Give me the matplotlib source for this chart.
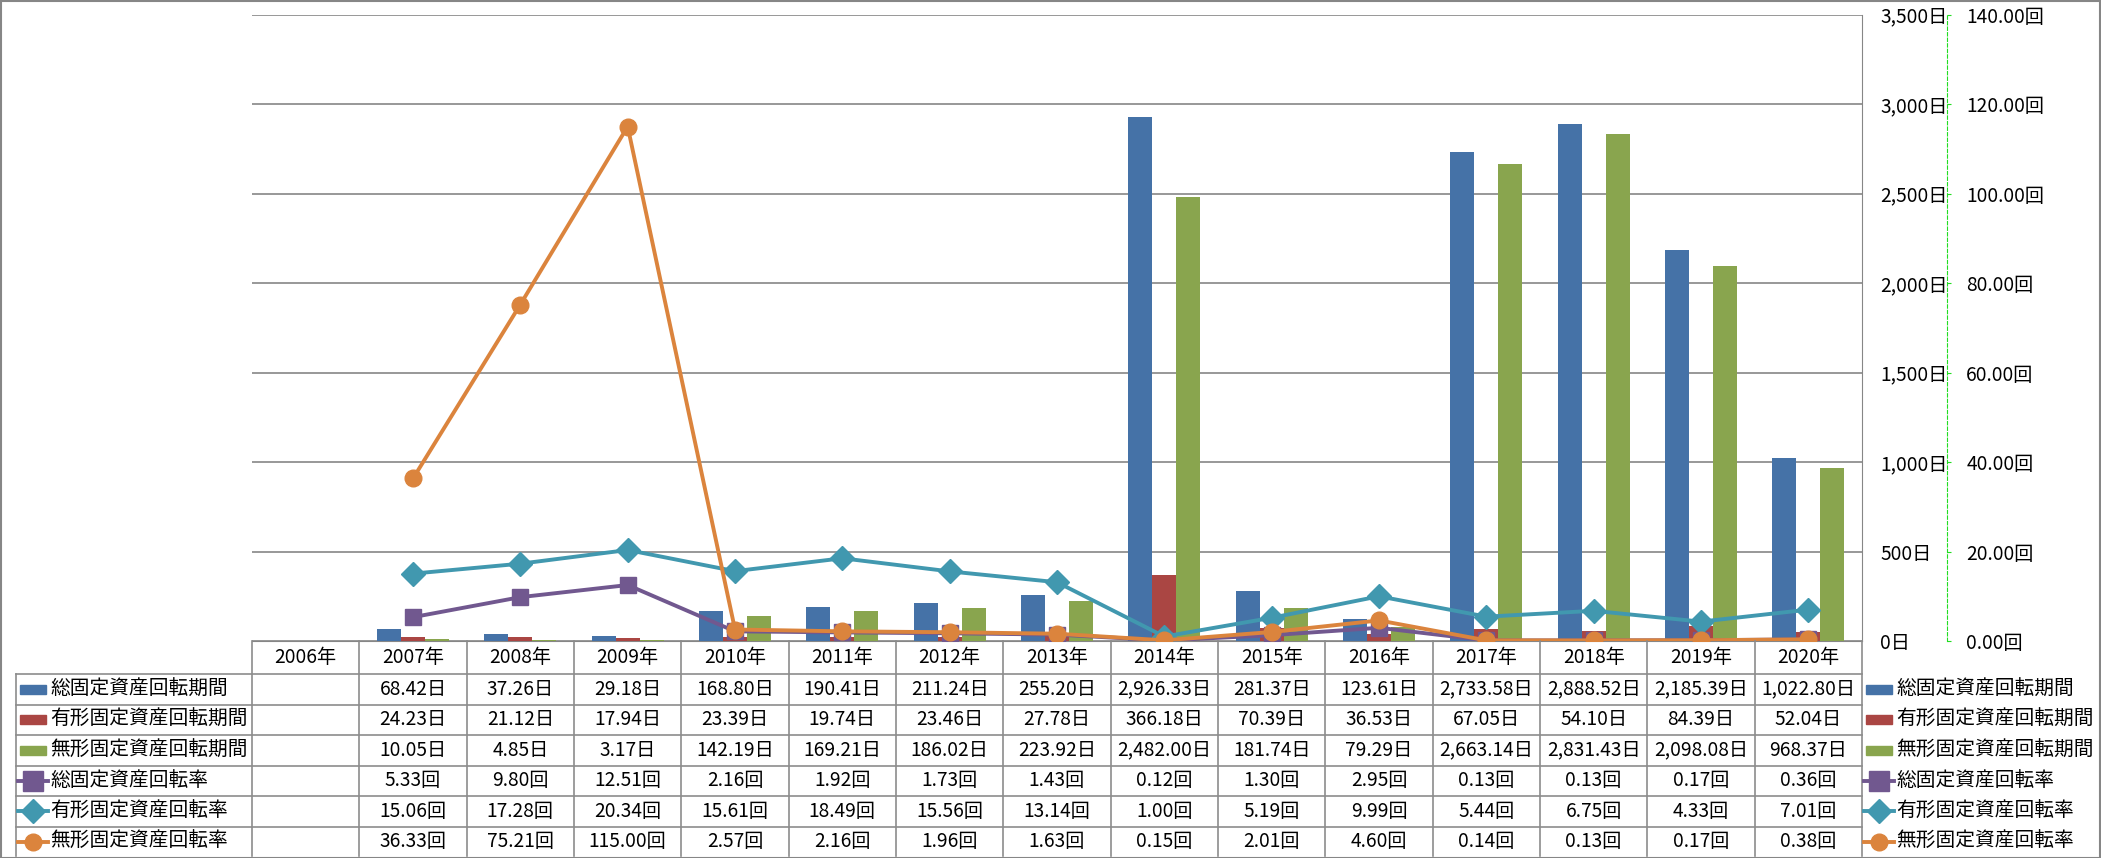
import matplotlib
matplotlib.use("Agg")
import matplotlib.pyplot as plt
import numpy as np
from matplotlib.lines import Line2D
from matplotlib.patches import Rectangle

plt.rcParams['font.family'] = ['Noto Sans CJK JP', 'DejaVu Sans']

# データ
years = ["2006年", "2007年", "2008年", "2009年", "2010年", "2011年", "2012年",
         "2013年", "2014年", "2015年", "2016年", "2017年", "2018年", "2019年", "2020年"]
total_days = [None, 68.42, 37.26, 29.18, 168.80, 190.41, 211.24, 255.20, 2926.33,
              281.37, 123.61, 2733.58, 2888.52, 2185.39, 1022.80]
tangible_days = [None, 24.23, 21.12, 17.94, 23.39, 19.74, 23.46, 27.78, 366.18,
                 70.39, 36.53, 67.05, 54.10, 84.39, 52.04]
intangible_days = [None, 10.05, 4.85, 3.17, 142.19, 169.21, 186.02, 223.92, 2482.00,
                   181.74, 79.29, 2663.14, 2831.43, 2098.08, 968.37]
total_rate = [None, 5.33, 9.80, 12.51, 2.16, 1.92, 1.73, 1.43, 0.12, 1.30, 2.95,
              0.13, 0.13, 0.17, 0.36]
tangible_rate = [None, 15.06, 17.28, 20.34, 15.61, 18.49, 15.56, 13.14, 1.00, 5.19,
                 9.99, 5.44, 6.75, 4.33, 7.01]
intangible_rate = [None, 36.33, 75.21, 115.00, 2.57, 2.16, 1.96, 1.63, 0.15, 2.01,
                   4.60, 0.14, 0.13, 0.17, 0.38]

bar_series = [("総固定資産回転期間", total_days, "#4572A7"),
              ("有形固定資産回転期間", tangible_days, "#AA4643"),
              ("無形固定資産回転期間", intangible_days, "#89A54E")]
line_series = [("総固定資産回転率", total_rate, "#71588F", "s", 12),
               ("有形固定資産回転率", tangible_rate, "#4198AF", "D", 12),
               ("無形固定資産回転率", intangible_rate, "#DB843D", "o", 12)]

W, H = 2101, 858
fig = plt.figure(figsize=(W / 100, H / 100), dpi=100)

def fx(px):
    return px / W

def fy(py):
    return 1 - py / H

left, right, top, bottom = 252, 1862, 14.7, 641
ax = fig.add_axes([fx(left), fy(bottom), fx(right) - fx(left), fy(top) - fy(bottom)])
ax2 = ax.twinx()

x = np.arange(len(years))
bw = 0.224
for i, (name, vals, col) in enumerate(bar_series):
    v = np.array([np.nan if a is None else a for a in vals])
    ax.bar(x + (i - 1) * bw, v, width=bw, color=col, zorder=3)

for name, vals, col, mk, ms in line_series:
    v = np.array([np.nan if a is None else a for a in vals])
    ax2.plot(x, v, color=col, lw=2.8, marker=mk, markersize=ms, zorder=4)

ax.set_xlim(-0.5, len(years) - 0.5)
ax.set_ylim(0, 3500)
ax.set_yticks(np.arange(0, 3501, 500))
ax.set_yticklabels([f"{int(t):,}日" for t in np.arange(0, 3501, 500)])
ax.yaxis.tick_right()
ax.tick_params(axis='y', length=0, pad=13, labelsize=13.8)
ax.set_xticks([])
ax.grid(axis='y', color='#868686', lw=1.2, zorder=0)
ax.set_axisbelow(True)
for s in ['left', 'top']:
    ax.spines[s].set_visible(False)
ax.spines['bottom'].set_color('#868686')
ax.spines['right'].set_color('#868686')

ax2.set_ylim(0, 140)
ax2.set_yticks(np.arange(0, 141, 20))
ax2.set_yticklabels([f"{t:.2f}回" for t in np.arange(0, 141, 20)])
ax2.spines['right'].set_position(('outward', 61))
ax2.spines['right'].set_color('#22DD22')
ax2.spines['right'].set_linestyle((0, (3, 2)))
for s in ['left', 'top', 'bottom']:
    ax2.spines[s].set_visible(False)
ax2.tick_params(axis='y', length=3, color='#22DD22', pad=11, labelsize=13.8)

# データテーブル
colw = (right - left) / len(years)
row_h = (857 - 674) / 6
grid_c = '#8C8C8C'

def fline(x0, y0, x1, y1):
    fig.add_artist(Line2D([fx(x0), fx(x1)], [fy(y0), fy(y1)],
                          transform=fig.transFigure, color=grid_c, lw=1.2))

for k in range(len(years) + 1):
    fline(left + k * colw, bottom, left + k * colw, 856)
fline(16, 674, 16, 856)
for r in range(6):
    fline(16, 674 + r * row_h, right, 674 + r * row_h)

for k, yl in enumerate(years):
    fig.text(fx(left + (k + 0.5) * colw), fy((bottom + 674) / 2), yl,
             ha='center', va='center', fontsize=13.8)

rows = [(n, v, c, None, "日") for n, v, c in bar_series] + \
       [(n, v, c, m, "回") for n, v, c, m, s in line_series]

def legend_key(x0, yc, col, mk):
    if mk is None:
        fig.add_artist(Rectangle((fx(x0), fy(yc + 4.5)), fx(26), 9 / H,
                                 transform=fig.transFigure, color=col))
    else:
        fig.add_artist(Line2D([fx(x0 - 2), fx(x0 + 28)], [fy(yc), fy(yc)],
                              transform=fig.transFigure, color=col, lw=2.8))
        fig.add_artist(Line2D([fx(x0 + 13)], [fy(yc)], transform=fig.transFigure,
                              color=col, marker=mk,
                              markersize=14 if mk == 's' else 12))

for r, (name, vals, col, mk, unit) in enumerate(rows):
    yc = 674 + (r + 0.5) * row_h
    legend_key(20, yc, col, mk)
    fig.text(fx(50), fy(yc), name, ha='left', va='center', fontsize=14.2)
    legend_key(1866, yc, col, mk)
    fig.text(fx(1896), fy(yc), name, ha='left', va='center', fontsize=14.2)
    for k, v in enumerate(vals):
        if v is None:
            continue
        fig.text(fx(left + (k + 0.5) * colw), fy(yc), f"{v:,.2f}{unit}",
                 ha='center', va='center', fontsize=13.8)

# 外枠
fig.add_artist(Rectangle((0.5 / W, 0.5 / H), 1 - 1.5 / W, 1 - 1.5 / H,
                         transform=fig.transFigure, fill=False,
                         edgecolor='#868686', lw=1.5))

fig.savefig("out.png", dpi=100)
